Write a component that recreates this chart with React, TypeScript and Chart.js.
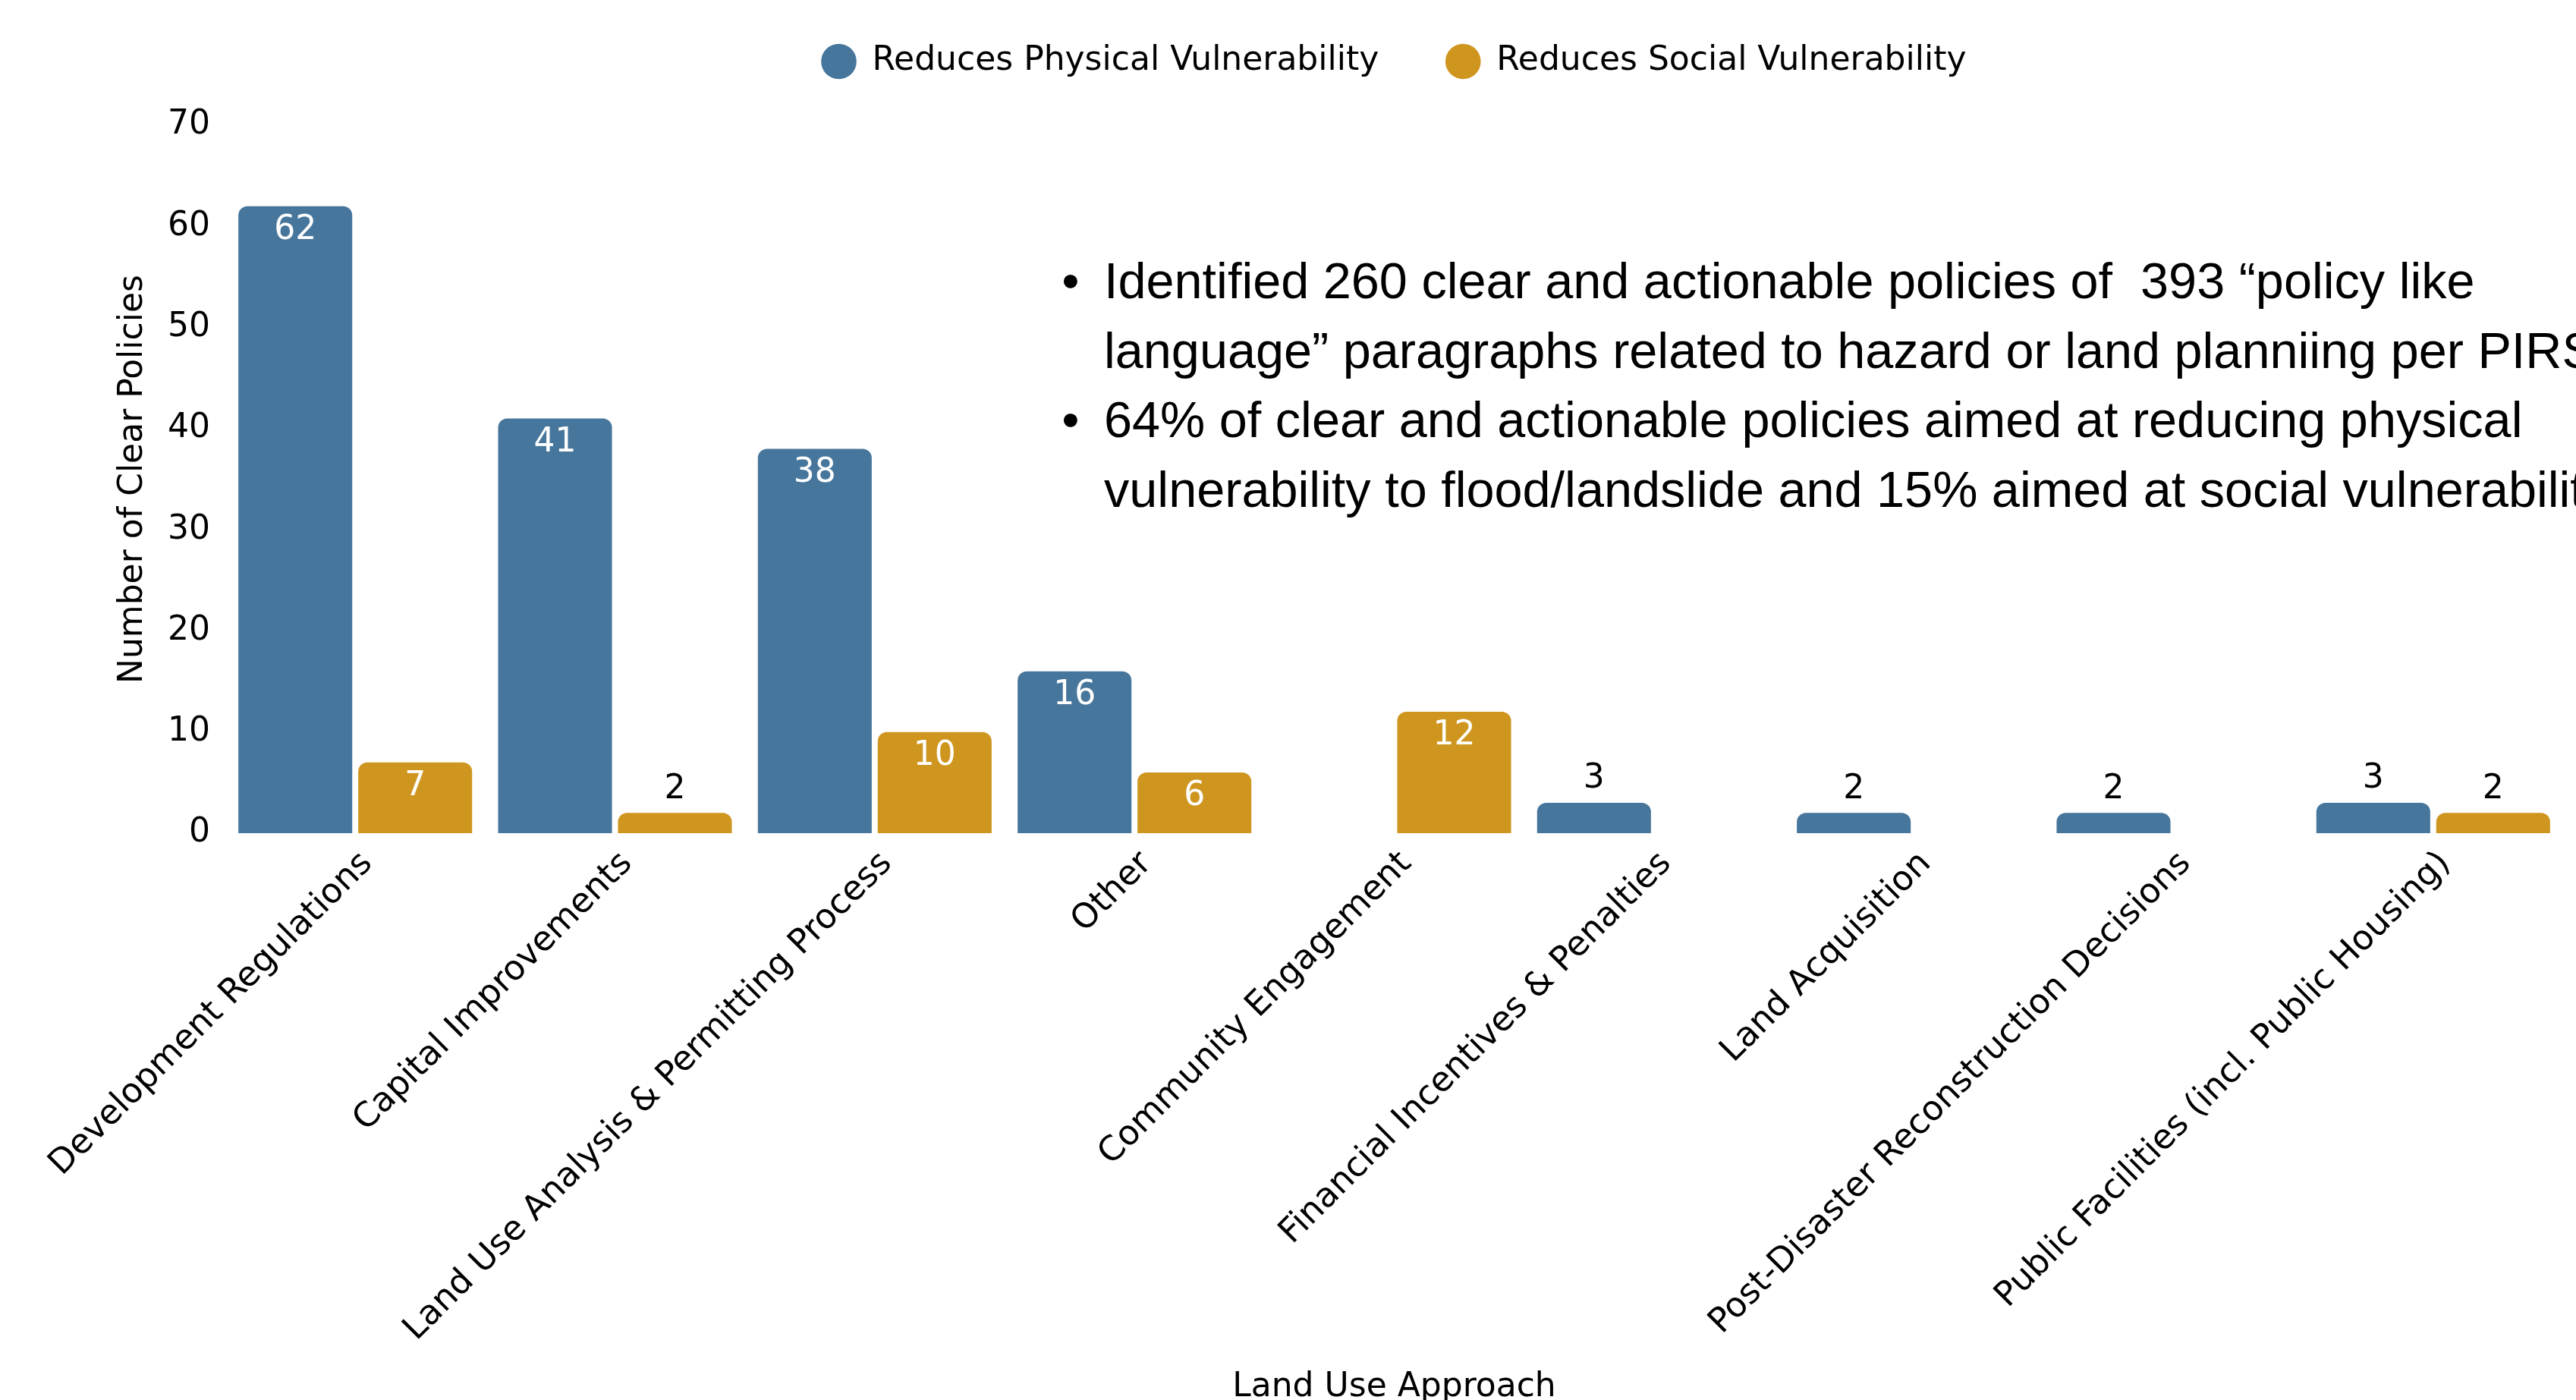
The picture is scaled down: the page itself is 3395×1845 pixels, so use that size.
import React, { useEffect, useRef } from "react";
import { Chart, registerables } from "chart.js";

Chart.register(...registerables);

// ---- data ----
const categories: string[] = [
  "Development Regulations",
  "Capital Improvements",
  "Land Use Analysis & Permitting Process",
  "Other",
  "Community Engagement",
  "Financial Incentives & Penalties",
  "Land Acquisition",
  "Post-Disaster Reconstruction Decisions",
  "Public Facilities (incl. Public Housing)",
];
const physicalValues: (number | null)[] = [62, 41, 38, 16, null, 3, 2, 2, 3];
const socialValues: (number | null)[] = [7, 2, 10, 6, 12, null, null, null, 2];
const seriesNames: string[] = ["Reduces Physical Vulnerability", "Reduces Social Vulnerability"];
const yMin = 0;
const yMax = 70;
const yStep = 10;
const xTitle = "Land Use Approach";
const yTitle = "Number of Clear Policies";
const noteLines: { bullet: boolean; text: string }[] = [
  { bullet: true, text: "Identified 260 clear and actionable policies of  393 \u201Cpolicy like" },
  { bullet: false, text: "language\u201D paragraphs related to hazard or land planniing per PIRS" },
  { bullet: true, text: "64% of clear and actionable policies aimed at reducing physical" },
  { bullet: false, text: "vulnerability to flood/landslide and 15% aimed at social vulnerability" },
];

// ---- style ----
const BLUE = "#47769c";
const GOLD = "#cf961f";
const FONT = "'DejaVu Sans', sans-serif";
const CANVAS_H = 1870;

const valueLabelPlugin = {
  id: "valueLabels",
  afterDatasetsDraw(chart: any) {
    const ctx = chart.ctx;
    ctx.save();
    ctx.font = `44px ${FONT}`;
    ctx.textAlign = "center";
    ctx.textBaseline = "middle";
    chart.data.datasets.forEach((ds: any, di: number) => {
      const meta = chart.getDatasetMeta(di);
      meta.data.forEach((el: any, i: number) => {
        const v = ds.data[i];
        if (v === null || v === undefined) return;
        if (v >= 5) {
          ctx.fillStyle = "#ffffff";
          ctx.fillText(String(v), el.x, el.y + 32);
        } else {
          ctx.fillStyle = "#000000";
          ctx.fillText(String(v), el.x, el.y - 31);
        }
      });
    });
    ctx.restore();
  },
};

const notesPlugin = {
  id: "notes",
  afterDraw(chart: any) {
    const ctx = chart.ctx;
    ctx.save();
    ctx.font = `66.6px 'Liberation Sans', Arial, sans-serif`;
    ctx.fillStyle = "#000000";
    ctx.textBaseline = "alphabetic";
    noteLines.forEach((line, i) => {
      const y = 393 + i * 91.7;
      if (line.bullet) {
        ctx.textAlign = "center";
        ctx.fillText("\u2022", 1411, y);
      }
      ctx.textAlign = "left";
      ctx.fillText(line.text, 1455, y);
    });
    ctx.restore();
  },
};

export default function App() {
  const canvasRef = useRef<HTMLCanvasElement | null>(null);

  useEffect(() => {
    if (!canvasRef.current) return;
    const chart = new Chart(canvasRef.current, {
      type: "bar",
      data: {
        labels: categories,
        datasets: [
          {
            label: seriesNames[0],
            data: physicalValues,
            backgroundColor: BLUE,
            borderWidth: 0,
            borderRadius: 12,
            barPercentage: 0.95,
            categoryPercentage: 0.923,
          },
          {
            label: seriesNames[1],
            data: socialValues,
            backgroundColor: GOLD,
            borderWidth: 0,
            borderRadius: 12,
            barPercentage: 0.95,
            categoryPercentage: 0.923,
          },
        ],
      },
      options: {
        animation: false,
        responsive: true,
        maintainAspectRatio: false,
        layout: { padding: { top: -30, left: 0, right: 17, bottom: 0 } },
        plugins: {
          tooltip: { enabled: false },
          legend: {
            display: true,
            position: "top",
            fullSize: false,
            labels: {
              usePointStyle: true,
              pointStyle: "circle",
              boxWidth: 44,
              boxHeight: 33,
              padding: 89,
              color: "#000000",
              font: { family: FONT, size: 44 },
            },
          },
          // invisible spacer box between the legend and the plot area
          title: {
            display: true,
            text: " ",
            position: "top",
            weight: 500,
            fullSize: false,
            color: "rgba(0,0,0,0)",
            font: { family: FONT, size: 10, lineHeight: 1.2 },
            padding: { top: 40, bottom: 0 },
          },
        },
        scales: {
          x: {
            grid: { display: false, drawTicks: false },
            border: { display: false },
            ticks: {
              autoSkip: false,
              maxRotation: 45,
              minRotation: 45,
              padding: 14,
              labelOffset: 16,
              color: "#000000",
              font: { family: FONT, size: 45 },
            },
            title: {
              display: true,
              text: xTitle,
              color: "#000000",
              font: { family: FONT, size: 44 },
              padding: { top: 0, bottom: 14.6 },
            },
            afterFit(scale: any) {
              scale.height = CANVAS_H - 1098;
              scale.paddingLeft = 0;
              scale.paddingRight = 0;
            },
          },
          y: {
            min: yMin,
            max: yMax,
            grid: { display: false, drawTicks: false },
            border: { display: false },
            ticks: {
              stepSize: yStep,
              padding: 20,
              color: "#000000",
              font: { family: FONT, size: 44 },
            },
            title: {
              display: true,
              text: yTitle,
              color: "#000000",
              font: { family: FONT, size: 44 },
              padding: { top: 149, bottom: 0 },
            },
            afterFit(scale: any) {
              scale.width = 297;
            },
          },
        },
      },
      plugins: [valueLabelPlugin, notesPlugin],
    } as any);
    return () => chart.destroy();
  }, []);

  return (
    <div style={{ position: "fixed", left: 0, top: 0, width: "100vw", height: "100vh", overflow: "hidden", background: "#ffffff" }}>
      <div style={{ position: "relative", width: 3395, height: CANVAS_H }}>
        <canvas ref={canvasRef} />
      </div>
    </div>
  );
}
